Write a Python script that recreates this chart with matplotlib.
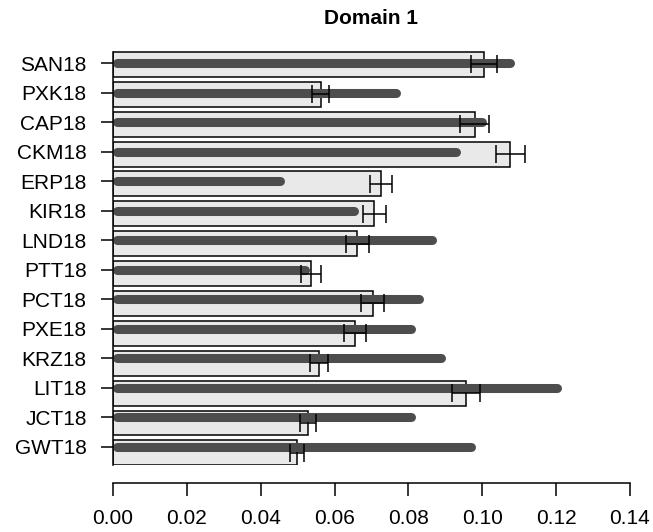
import matplotlib
matplotlib.use('Agg')
import matplotlib.pyplot as plt
import numpy as np

plt.rcParams['font.family'] = ['Liberation Sans', 'DejaVu Sans']

# domain 1 values, top row first
sites = ['SAN18', 'PXK18', 'CAP18', 'CKM18', 'ERP18', 'KIR18', 'LND18',
         'PTT18', 'PCT18', 'PXE18', 'KRZ18', 'LIT18', 'JCT18', 'GWT18']
bar_vals = [0.1005, 0.0562, 0.0979, 0.1076, 0.0726, 0.0708, 0.0662,
            0.0537, 0.0703, 0.0656, 0.0557, 0.0956, 0.0529, 0.0498]
bar_err = [0.0035, 0.0024, 0.0038, 0.0040, 0.0030, 0.0031, 0.0031,
           0.0027, 0.0031, 0.0030, 0.0024, 0.0038, 0.0022, 0.0020]
line_vals = [0.1076, 0.0766, 0.0998, 0.0929, 0.0452, 0.0653, 0.0863,
             0.0521, 0.0829, 0.0808, 0.0889, 0.1201, 0.0808, 0.0970]
xticks = [0.00, 0.02, 0.04, 0.06, 0.08, 0.10, 0.12, 0.14]

W, H = 653, 532
fig = plt.figure(figsize=(W / 100, H / 100), dpi=100)
ax = fig.add_axes([113 / W, 1 - 465.3 / H, (630 - 113) / W, (465.3 - 47) / H])

n = len(sites)
idx = np.arange(n)
y_bar = 0.7 + 1.2 * idx          # barplot positions
y_lab = 0.644 + 1.186 * idx      # label / segment positions

ax.barh(y_bar, bar_vals, height=1.0, color='#e9e9e9', edgecolor='black',
        linewidth=1.1, zorder=1)
for yl, v in zip(y_lab, line_vals):
    ax.plot([0.0012, v], [yl, yl], color='#4d4d4d', linewidth=6.5,
            solid_capstyle='round', zorder=2)
ax.errorbar(bar_vals, y_bar, xerr=bar_err, fmt='none', ecolor='black',
            elinewidth=1.1, capsize=6.5, capthick=1.1, zorder=3)

ax.set_xlim(0, 0.14)
ax.set_ylim(16.8, 0)
ax.set_xticks(xticks)
ax.set_xticklabels([f'{t:.2f}' for t in xticks])
ax.set_yticks(y_lab)
ax.set_yticklabels(sites)

for s in ['top', 'right']:
    ax.spines[s].set_visible(False)
ax.spines['left'].set_bounds(0.2, 16.8)
ax.spines['left'].set_linewidth(1.1)
ax.spines['bottom'].set_position(('outward', 13))
ax.spines['bottom'].set_bounds(0, 0.14)
ax.spines['bottom'].set_linewidth(1.1)
ax.tick_params(axis='y', length=9, width=1.1, labelsize=15, pad=10)
ax.tick_params(axis='x', length=9, width=1.1, labelsize=15, pad=9.5)

fig.text(371.5 / W, 1 - 18 / H, 'Domain 1', ha='center', va='center',
         fontsize=15, fontweight='bold')

fig.savefig('out.png', dpi=100)
